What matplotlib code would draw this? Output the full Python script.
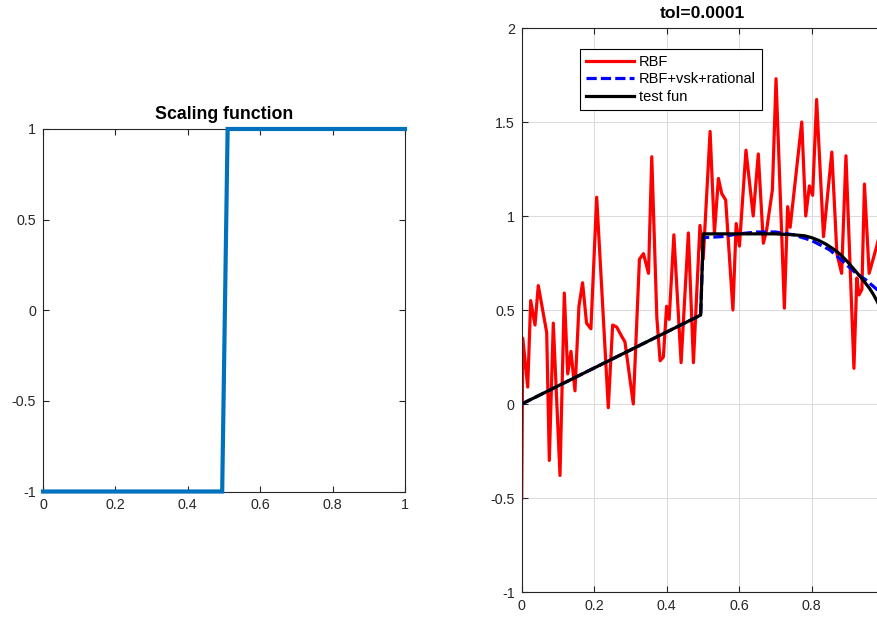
import matplotlib
matplotlib.use("Agg")
import matplotlib.pyplot as plt

plt.rcParams['font.family'] = ['Liberation Sans', 'DejaVu Sans']

# ---- left panel: scaling function ----
scale_x = [0.0, 0.495, 0.51, 1.0]
scale_y = [-1.0, -1.0, 1.0, 1.0]

# ---- right panel ----
rbf_x = [0.0, 0.003, 0.0166, 0.0248, 0.0367, 0.0458, 0.069, 0.0762, 0.0872, 0.1057,
         0.1176, 0.127, 0.136, 0.147, 0.158, 0.168, 0.179, 0.191, 0.207, 0.239,
         0.251, 0.262, 0.276, 0.285, 0.308, 0.325, 0.336, 0.350, 0.359, 0.373,
         0.382, 0.391, 0.400, 0.407, 0.420, 0.440, 0.460, 0.474, 0.492, 0.501,
         0.520, 0.532, 0.543, 0.552, 0.563, 0.583, 0.592, 0.601, 0.619, 0.639,
         0.653, 0.667, 0.676, 0.692, 0.702, 0.725, 0.734, 0.741, 0.773, 0.784,
         0.794, 0.803, 0.814, 0.833, 0.856, 0.870, 0.883, 0.895, 0.917, 0.925,
         0.931, 0.939, 0.946, 0.959, 0.980, 1.0]
rbf_y = [-0.50, 0.35, 0.09, 0.55, 0.42, 0.63, 0.38, -0.30, 0.43, -0.38,
         0.59, 0.16, 0.28, 0.07, 0.52, 0.645, 0.43, 0.40, 1.10, -0.02,
         0.42, 0.41, 0.36, 0.33, 0.0, 0.77, 0.80, 0.695, 1.315, 0.46,
         0.23, 0.25, 0.52, 0.45, 0.90, 0.22, 0.91, 0.22, 0.95, 0.77,
         1.45, 0.91, 1.20, 1.12, 1.085, 0.50, 0.96, 0.84, 1.35, 1.0,
         1.33, 0.855, 0.925, 1.14, 1.73, 0.51, 1.05, 0.94, 1.50, 1.0,
         1.16, 1.11, 1.62, 0.89, 1.34, 0.80, 0.695, 1.32, 0.19, 0.67,
         0.58, 0.61, 1.17, 0.695, 0.84, 1.0]

vsk_x = [0.0, 0.494, 0.501, 0.55, 0.6, 0.65, 0.7, 0.75, 0.8, 0.85, 0.88, 0.92, 0.95, 0.98, 1.0]
vsk_y = [0.0, 0.473, 0.885, 0.89, 0.905, 0.915, 0.915, 0.90, 0.87, 0.82, 0.77, 0.70, 0.66, 0.61, 0.57]

test_x = [0.0, 0.494, 0.501, 0.6, 0.7, 0.75, 0.78, 0.8, 0.82, 0.84, 0.86, 0.88, 0.90,
          0.92, 0.94, 0.96, 0.97, 0.98, 0.99, 1.0]
test_y = [0.0, 0.473, 0.905, 0.905, 0.905, 0.90, 0.895, 0.885, 0.87, 0.85, 0.825, 0.795, 0.755,
          0.71, 0.665, 0.615, 0.585, 0.55, 0.51, 0.46]

xticks = [0, 0.2, 0.4, 0.6, 0.8, 1]
xticklabels = ['0', '0.2', '0.4', '0.6', '0.8', '1']
right_xticklabels = ['0', '0.2', '0.4', '0.6', '0.8', '']
left_yticks = [-1, -0.5, 0, 0.5, 1]
left_yticklabels = ['-1', '-0.5', '0', '0.5', '1']
right_yticks = [-1, -0.5, 0, 0.5, 1, 1.5, 2]
right_yticklabels = ['-1', '-0.5', '0', '0.5', '1', '1.5', '2']

AX = '#262626'
fig = plt.figure(figsize=(8.77, 6.21), dpi=100)

def style(ax):
    for s in ax.spines.values():
        s.set_color(AX)
        s.set_linewidth(0.8)
    ax.tick_params(direction='in', length=4, width=0.8, colors=AX, labelsize=10.3,
                   top=True, right=True, pad=5)

ax1 = fig.add_axes([43/877, 1-491.5/621, 362/877, 362.5/621])
ax1.plot(scale_x, scale_y, color='#0072BD', lw=3, clip_on=False, zorder=5,
         solid_joinstyle='miter')
ax1.set_xlim(0, 1)
ax1.set_ylim(-1, 1)
ax1.set_xticks(xticks)
ax1.set_xticklabels(xticklabels)
ax1.set_yticks(left_yticks)
ax1.set_yticklabels(left_yticklabels)
style(ax1)
ax1.set_title('Scaling function', fontsize=12.8, fontweight='bold', color='black', pad=7)

ax2 = fig.add_axes([521.7/877, 1-592/621, 362.3/877, 564/621])
ax2.plot(rbf_x, rbf_y, color='red', lw=2.3, label='RBF')
ax2.plot(vsk_x, vsk_y, color='blue', lw=2.3, ls=(0, (3.2, 1.3)), label='RBF+vsk+rational')
ax2.plot(test_x, test_y, color='black', lw=2.3, label='test fun')
ax2.set_xlim(0, 1)
ax2.set_ylim(-1, 2)
ax2.set_xticks(xticks)
ax2.set_xticklabels(right_xticklabels)
ax2.set_yticks(right_yticks)
ax2.set_yticklabels(right_yticklabels)
ax2.grid(True, color='#DCDCDC', lw=0.8)
ax2.set_axisbelow(True)
style(ax2)
ax2.set_title('tol=0.0001', fontsize=12.6, fontweight='bold', color='black', pad=7)
leg = ax2.legend(loc='upper left', bbox_to_anchor=((580-521.7)/362.3, (592-49)/564),
                 fontsize=10.5, handlelength=3.3, labelspacing=0.25, borderpad=0.4,
                 handletextpad=0.35, borderaxespad=0, fancybox=False, framealpha=1)
leg.get_frame().set_edgecolor('black')
leg.get_frame().set_linewidth(0.8)

fig.savefig('out.png', dpi=100)
